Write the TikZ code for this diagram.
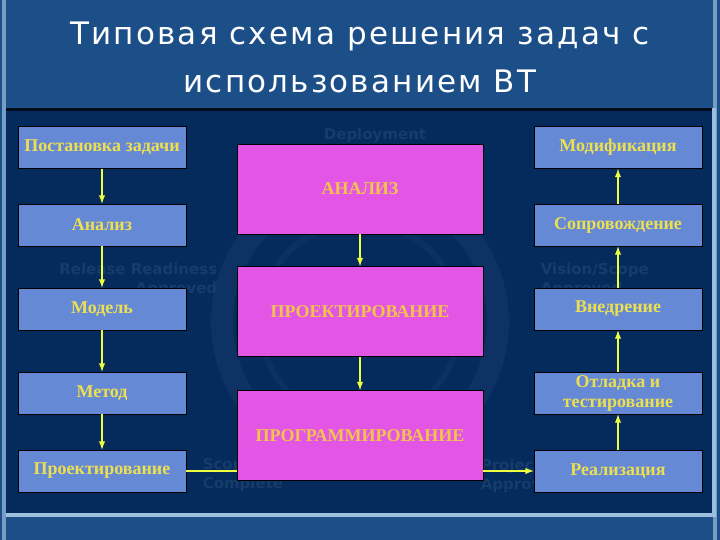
\documentclass[tikz,border=0pt]{standalone}
\usepackage{fontspec}
\setmainfont{Liberation Serif}
\newfontfamily\titlefont{DejaVu Sans}
\newfontfamily\titlewide[LetterSpace=7]{DejaVu Sans}
\usetikzlibrary{arrows}

\definecolor{slideblue}{HTML}{1C4E88}
\definecolor{panelnavy}{HTML}{052A5C}
\definecolor{rimlight}{HTML}{9CC0DE}
\definecolor{stagefill}{HTML}{6689D6}
\definecolor{stagetext}{HTML}{ECE050}
\definecolor{phasefill}{HTML}{E356E5}
\definecolor{phasetext}{HTML}{F2C44A}
\definecolor{flowline}{HTML}{EEFF40}
\definecolor{ghostcol}{HTML}{163C6B}

\begin{document}
\begin{tikzpicture}[x=1pt, y=-1pt, >=latex, line width=1.6pt]
    % Styles
    \tikzstyle{stage} = [draw=black, line width=0.8pt, fill=stagefill, rectangle, minimum width=168pt, minimum height=42pt, inner sep=2pt, align=center, text=stagetext, font=\fontsize{18}{20}\selectfont\bfseries]
    \tikzstyle{phase} = [draw=black, line width=0.8pt, fill=phasefill, rectangle, minimum width=246pt, minimum height=90pt, text=phasetext, font=\fontsize{18}{20}\selectfont\bfseries]
    \tikzstyle{flow} = [->, draw=flowline, line width=1.8pt]
    \tikzstyle{ghost} = [text=ghostcol, inner sep=0pt, font=\titlefont\fontsize{15}{19}\selectfont\bfseries]

    % Background
    \useasboundingbox (0,0) rectangle (720,540);
    \fill [slideblue] (0,0) rectangle (720,540);
    \fill [rimlight!70!slideblue] (2,0) rectangle (6,540);
    \fill [rimlight!70!slideblue] (713,0) rectangle (717,540);
    \fill [rimlight] (6,108) rectangle (716,517);
    \fill [panelnavy] (6,108) rectangle (712,513);
    \fill [black!70!panelnavy] (6,108) rectangle (712,111);
    \draw [ghostcol!45!panelnavy, line width=22pt] (360,322) circle (138);
    \draw [ghostcol!35!panelnavy, line width=6pt] (360,322) circle (100);

    % Title
    \node [text=white, align=center, font=\titlewide\fontsize{31}{48}\selectfont] (title) at (360,57) {Типовая схема решения задач с\\использованием ВТ};

    % Watermark labels
    \node [ghost] (wdeploy) at (375,135) {Deployment};
    \node [ghost, align=right, anchor=north east] (wrelease) at (218,262) {Release Readiness\\Approved};
    \node [ghost, align=left, anchor=north west] (wvision) at (540,262) {Vision/Scope\\Approved};
    \node [ghost, align=left, anchor=north west] (wscope) at (202,458) {Scope\\Complete};
    \node [ghost, align=left, anchor=north west] (wplans) at (480,458) {Project\\Approved};

    % Nodes
    \node [stage] (postan) at (102,147.5) {Постановка задачи};
    \node [stage, below of=postan, node distance=77.5pt] (analiz) {Анализ};
    \node [stage, below of=analiz, node distance=84pt] (model) {Модель};
    \node [stage, below of=model, node distance=84pt] (metod) {Метод};
    \node [stage, below of=metod, node distance=78pt] (proekt) {Проектирование};

    \node [stage, right of=postan, node distance=516pt] (modif) {Модификация};
    \node [stage, right of=analiz, node distance=516pt] (soprov) {Сопровождение};
    \node [stage, right of=model, node distance=516pt] (vnedr) {Внедрение};
    \node [stage, right of=metod, node distance=516pt] (otlad) {Отладка и\\тестирование};
    \node [stage, right of=proekt, node distance=516pt] (realiz) {Реализация};

    \node [phase] (ANALIZ) at (360,189) {АНАЛИЗ};
    \node [phase, below of=ANALIZ, node distance=122.5pt] (PROEKT) {ПРОЕКТИРОВАНИЕ};
    \node [phase, below of=PROEKT, node distance=124pt] (PROGR) {ПРОГРАММИРОВАНИЕ};

    % Connections
    \draw [flow] (postan) -- (analiz);
    \draw [flow] (analiz) -- (model);
    \draw [flow] (model) -- (metod);
    \draw [flow] (metod) -- (proekt);
    \draw [flow] (ANALIZ) -- (PROEKT);
    \draw [flow] (PROEKT) -- (PROGR);
    \draw [flow] (realiz) -- (otlad);
    \draw [flow] (otlad) -- (vnedr);
    \draw [flow] (vnedr) -- (soprov);
    \draw [flow] (soprov) -- (modif);
    \draw [flow, -] (proekt.east) -- (proekt.east -| PROGR.west);
    \draw [flow] (realiz.west -| PROGR.east) -- (realiz.west);
\end{tikzpicture}
\end{document}
